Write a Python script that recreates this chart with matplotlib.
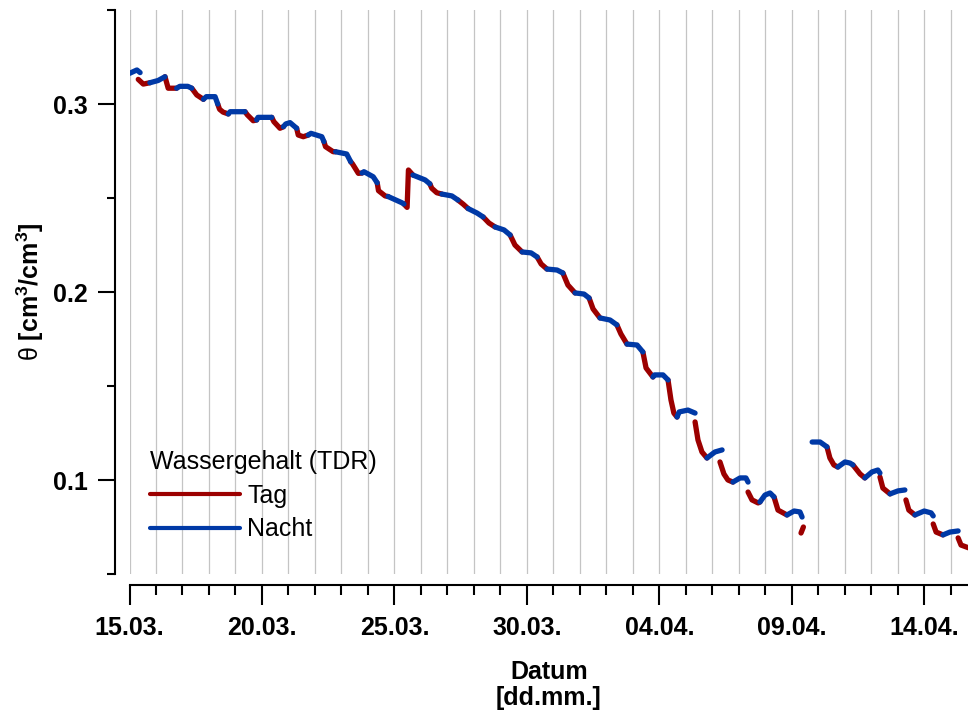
import numpy as np
import matplotlib
matplotlib.use('Agg')
import matplotlib.pyplot as plt
from matplotlib.ticker import FixedLocator, MultipleLocator

# Zeit in Tagen seit 15.03. 00:00, Wassergehalt theta [cm3/cm3]
# one inner list per day / night stretch
tag_t = [
    [0.33, 0.52, 0.77], [1.34, 1.46, 1.78], [2.35, 2.54, 2.79],
    [3.33, 3.40, 3.53, 3.73], [4.36, 4.45, 4.67, 4.80], [5.37, 5.45, 5.68, 5.81],
    [6.31, 6.37, 6.56, 6.75], [7.34, 7.40, 7.69, 7.78], [8.35, 8.42, 8.64, 8.78],
    [9.35, 9.40, 9.65, 9.76], [10.36, 10.48, 10.53, 10.70], [11.34, 11.41, 11.60, 11.79],
    [12.40, 12.59, 12.78], [13.35, 13.57, 13.80], [14.37, 14.55, 14.82],
    [15.39, 15.54, 15.76], [16.36, 16.55, 16.82], [17.35, 17.50, 17.76],
    [18.40, 18.55, 18.78], [19.38, 19.50, 19.76], [20.33, 20.44, 20.55, 20.67],
    [21.35, 21.46, 21.61, 21.80], [22.29, 22.44, 22.59, 22.78], [23.35, 23.50, 23.73, 23.80],
    [24.33, 24.48, 24.82], [25.35, 25.44], [26.33, 26.44, 26.59, 26.74],
    [27.31, 27.58, 27.76], [28.33, 28.44, 28.71], [29.31, 29.42, 29.65],
    [30.34, 30.45, 30.71], [31.28, 31.39, 31.70],
]
tag_theta = [
    [0.3131, 0.3106, 0.3113], [0.3145, 0.3084, 0.3084], [0.3084, 0.3048, 0.3025],
    [0.3000, 0.2972, 0.2957, 0.2947], [0.2959, 0.2942, 0.2911, 0.2915], [0.2929, 0.2906, 0.2871, 0.2879],
    [0.2871, 0.2835, 0.2826, 0.2835], [0.2800, 0.2773, 0.2746, 0.2746], [0.2693, 0.2681, 0.2631, 0.2633],
    [0.2581, 0.2539, 0.2511, 0.2508], [0.2468, 0.2450, 0.2649, 0.2622], [0.2575, 0.2552, 0.2528, 0.2521],
    [0.2489, 0.2468, 0.2444], [0.2399, 0.2367, 0.2346], [0.2303, 0.2250, 0.2213],
    [0.2186, 0.2149, 0.2122], [0.2101, 0.2037, 0.1995], [0.1968, 0.1910, 0.1862],
    [0.1825, 0.1777, 0.1723], [0.1681, 0.1596, 0.1548], [0.1532, 0.1426, 0.1356, 0.1335],
    [0.1309, 0.1213, 0.1149, 0.1117], [0.1096, 0.1032, 0.1000, 0.0989], [0.0936, 0.0894, 0.0878, 0.0883],
    [0.0910, 0.0840, 0.0814], [0.0718, 0.0750], [0.1176, 0.1117, 0.1080, 0.1069],
    [0.1080, 0.1032, 0.1011], [0.1016, 0.0957, 0.0926], [0.0894, 0.0840, 0.0814],
    [0.0766, 0.0723, 0.0708], [0.0692, 0.0654, 0.0638],
]

nacht_t = [
    [0.00, 0.28, 0.40], [0.77, 1.08, 1.34], [1.78, 1.90, 2.20, 2.35],
    [2.79, 2.90, 3.23, 3.33], [3.73, 3.80, 4.36], [4.80, 4.85, 5.37],
    [5.81, 5.90, 6.06, 6.31], [6.75, 6.85, 7.26, 7.34], [7.78, 8.20, 8.35],
    [8.78, 8.85, 9.20, 9.35], [9.76, 10.28, 10.36], [10.70, 11.16, 11.34],
    [11.79, 12.17, 12.40], [12.78, 13.12, 13.35], [13.80, 14.14, 14.37],
    [14.82, 15.16, 15.39], [15.76, 16.14, 16.36], [16.82, 17.16, 17.35],
    [17.76, 18.14, 18.40], [18.78, 19.16, 19.38], [19.76, 19.82, 20.14, 20.33],
    [20.67, 20.75, 21.08, 21.35], [21.80, 22.10, 22.37], [22.78, 23.05, 23.27, 23.35],
    [23.80, 23.99, 24.18, 24.33], [24.82, 25.09, 25.31, 25.39], [25.77, 26.07, 26.33],
    [26.74, 27.01, 27.20, 27.31], [27.76, 28.03, 28.25, 28.33], [28.71, 29.01, 29.27],
    [29.65, 30.00, 30.26, 30.34], [30.71, 30.97, 31.28],
]
nacht_theta = [
    [0.3163, 0.3181, 0.3167], [0.3113, 0.3125, 0.3145], [0.3084, 0.3094, 0.3094, 0.3084],
    [0.3025, 0.3039, 0.3039, 0.3000], [0.2947, 0.2959, 0.2959], [0.2915, 0.2929, 0.2929],
    [0.2879, 0.2894, 0.2901, 0.2871], [0.2835, 0.2844, 0.2826, 0.2800], [0.2746, 0.2734, 0.2693],
    [0.2633, 0.2640, 0.2613, 0.2581], [0.2508, 0.2475, 0.2468], [0.2622, 0.2596, 0.2575],
    [0.2521, 0.2511, 0.2489], [0.2444, 0.2420, 0.2399], [0.2346, 0.2330, 0.2303],
    [0.2213, 0.2208, 0.2186], [0.2122, 0.2117, 0.2101], [0.1995, 0.1989, 0.1968],
    [0.1862, 0.1851, 0.1825], [0.1723, 0.1718, 0.1681], [0.1548, 0.1559, 0.1559, 0.1532],
    [0.1335, 0.1362, 0.1372, 0.1356], [0.1117, 0.1149, 0.1160], [0.0989, 0.1011, 0.1011, 0.0989],
    [0.0883, 0.0920, 0.0931, 0.0910], [0.0814, 0.0835, 0.0830, 0.0803], [0.1202, 0.1202, 0.1176],
    [0.1069, 0.1096, 0.1090, 0.1080], [0.1011, 0.1043, 0.1053, 0.1037], [0.0926, 0.0942, 0.0947],
    [0.0814, 0.0835, 0.0825, 0.0809], [0.0708, 0.0723, 0.0729],
]

date_ticks = [0, 5, 10, 15, 20, 25, 30]
date_labels = ['15.03.', '20.03.', '25.03.', '30.03.', '04.04.', '09.04.', '14.04.']
theta_ticks = [0.1, 0.2, 0.3]
theta_labels = ['0.1', '0.2', '0.3']

RED = '#9c0000'
BLUE = '#0039a6'
FONT_SIZE = 18

plt.rcParams['font.family'] = 'Liberation Sans'
plt.rcParams['mathtext.fontset'] = 'custom'
plt.rcParams['mathtext.rm'] = 'Liberation Sans'
plt.rcParams['mathtext.bf'] = 'Liberation Sans:bold'
plt.rcParams['mathtext.it'] = 'Liberation Sans:italic'


def join_segments(ts, vs):
    """concatenate segments, separated by nan so the line breaks between them"""
    x, y = [], []
    for t, v in zip(ts, vs):
        x += list(t) + [np.nan]
        y += list(v) + [np.nan]
    return x, y


fig = plt.figure(figsize=(9.68, 7.22), dpi=100)
ax = fig.add_axes([129.5 / 968, 1 - 574 / 722, 1 - 129.5 / 968, 564 / 722])

x_tag, y_tag = join_segments(tag_t, tag_theta)
x_nacht, y_nacht = join_segments(nacht_t, nacht_theta)
ax.plot(x_tag, y_tag, color=RED, lw=3.8, solid_capstyle='round', solid_joinstyle='round', label='Tag')
ax.plot(x_nacht, y_nacht, color=BLUE, lw=3.8, solid_capstyle='round', solid_joinstyle='round', label='Nacht')

ax.set_xlim(0, (968 - 129.5) / 26.49)
ax.set_ylim(0.05, 0.35)

# tick styles
ax.tick_params(axis='x', which='major', length=14.4, width=1.5, pad=8, labelsize=FONT_SIZE)
ax.tick_params(axis='x', which='minor', length=7.2, width=1.5)
ax.tick_params(axis='y', which='major', length=12, width=1.5, pad=7, labelsize=FONT_SIZE)
ax.tick_params(axis='y', which='minor', length=6, width=1.5)

# x axis: major every 5 days, minor every day
ax.xaxis.set_major_locator(FixedLocator(date_ticks))
ax.xaxis.set_minor_locator(MultipleLocator(1))
ax.set_xticklabels(date_labels)

# y axis
ax.yaxis.set_major_locator(FixedLocator(theta_ticks))
ax.yaxis.set_minor_locator(FixedLocator([0.05, 0.15, 0.25, 0.35]))
ax.set_yticklabels(theta_labels)

# vertical grid, one line per day
ax.grid(axis='x', which='both', color='#c4c4c4', linewidth=0.9)
ax.set_axisbelow(True)

# detached axes like the original
for side in ['top', 'right']:
    ax.spines[side].set_visible(False)
ax.spines['left'].set_position(('outward', 10.8))
ax.spines['bottom'].set_position(('outward', 8))
ax.spines['left'].set_linewidth(1.5)
ax.spines['bottom'].set_linewidth(1.5)

ax.set_xlabel('Datum\n[dd.mm.]', fontsize=FONT_SIZE, fontweight='bold', labelpad=14, linespacing=1.1)
ax.set_ylabel(r'$\mathrm{θ}\ \mathbf{[cm^{3}/cm^{3}]}$', fontsize=FONT_SIZE, labelpad=5)

leg = ax.legend(title='Wassergehalt (TDR)', loc='upper left', bbox_to_anchor=(0.0245, 0.219),
                frameon=False, fontsize=FONT_SIZE, title_fontsize=FONT_SIZE,
                handlelength=3.6, handletextpad=0.28, labelspacing=0.38,
                borderpad=0, borderaxespad=0, alignment='left')
for line in leg.get_lines():
    line.set_linewidth(3)

# make the tick labels bold once the ticks exist
fig.canvas.draw()
for lbl in ax.get_xticklabels() + ax.get_yticklabels():
    lbl.set_fontweight('bold')

fig.savefig('out.png', dpi=100)
